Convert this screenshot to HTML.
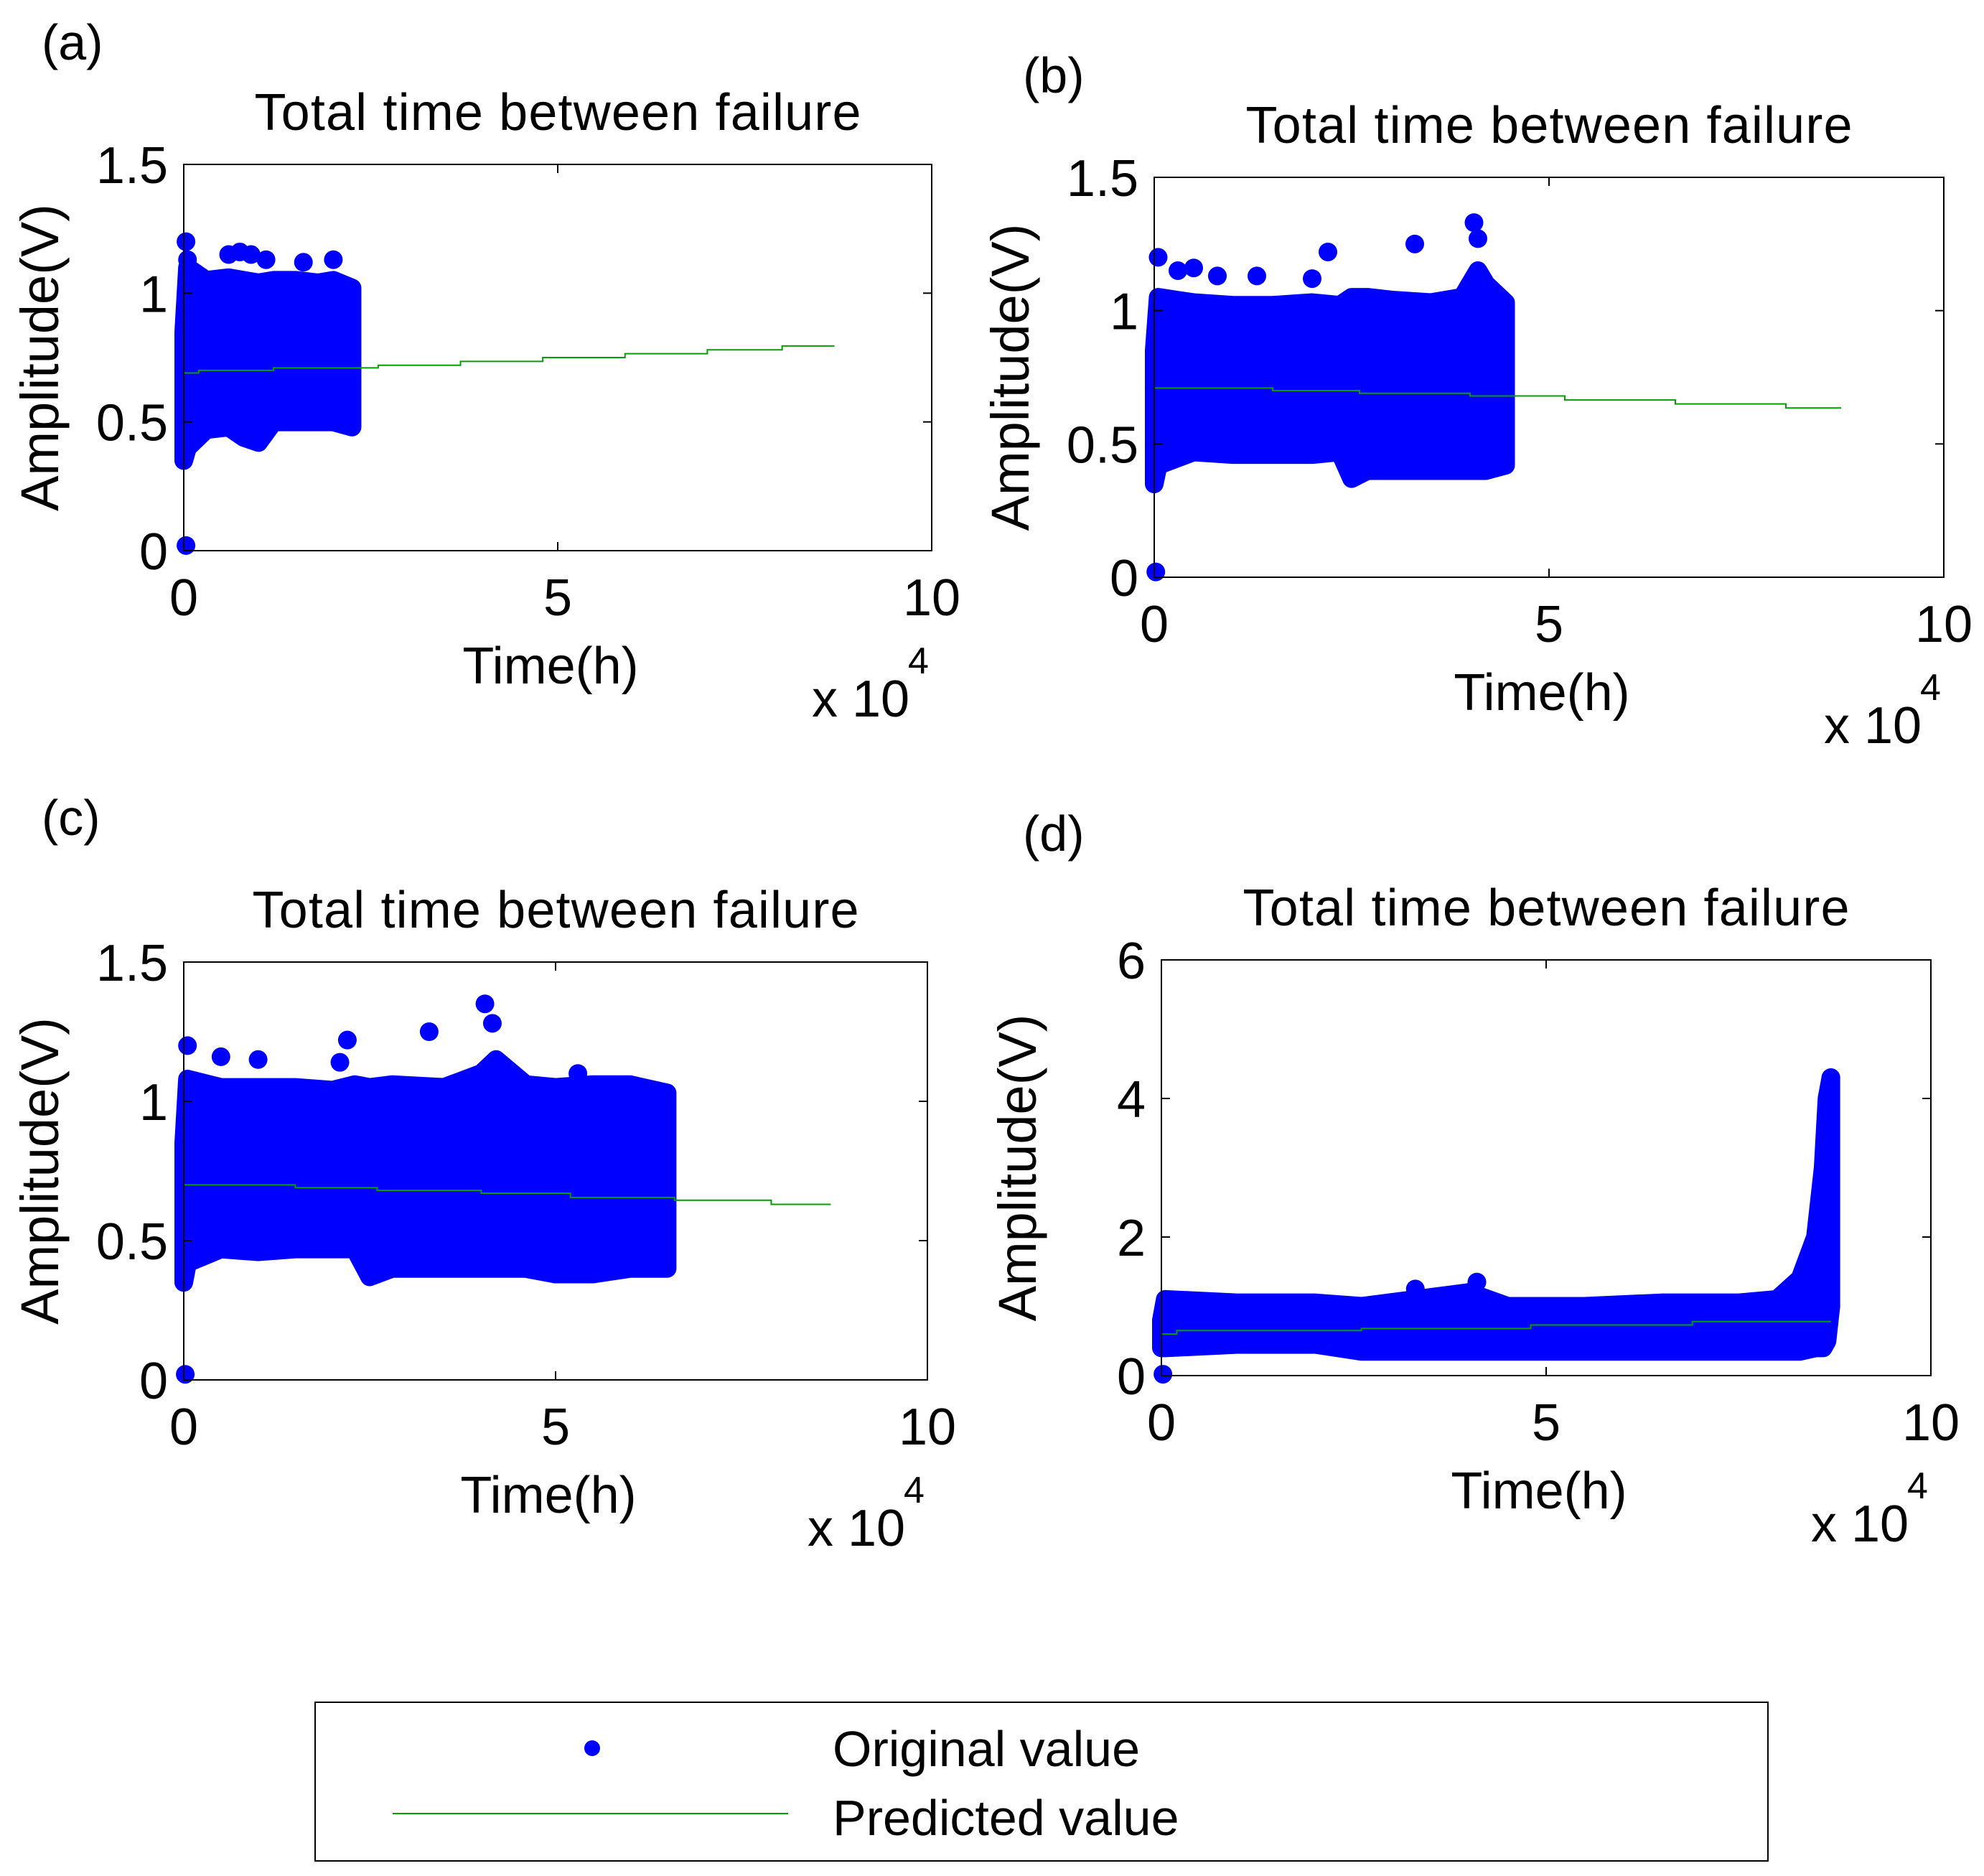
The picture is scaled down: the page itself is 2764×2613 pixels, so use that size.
<!DOCTYPE html>
<html><head><meta charset="utf-8"><style>
html,body{margin:0;padding:0;background:#fff;}
svg{display:block;font-family:"Liberation Sans",Arial,sans-serif;}
</style></head><body>
<svg id="fig" width="2764" height="2613" viewBox="0 0 2764 2613">
<g id="root"></g>
<g>
<rect x="439" y="2371" width="2024" height="221" fill="#fff" stroke="#000" stroke-width="2"/>
<circle cx="825" cy="2435" r="11" fill="#0000ff"/>
<text x="1160" y="2460" font-size="70">Original value</text>
<line x1="547" y1="2526" x2="1098" y2="2526" stroke="#00a000" stroke-width="2"/>
<text x="1160" y="2556" font-size="70">Predicted value</text>
</g>
</svg>
<script>
// ---- data (x in units of 1e4 h, y in V) ----
const aBandX = [0.0,0.05,0.3,0.6,0.8,1.0,1.2,1.5,1.8,2.0,2.25];
const aUpper = [0.85,1.1,1.05,1.06,1.05,1.04,1.05,1.05,1.04,1.05,1.02];
const aLower = [0.35,0.4,0.47,0.48,0.44,0.42,0.5,0.5,0.5,0.5,0.48];
const aOutX = [0.03,0.03,0.6,0.75,0.9,1.1,1.6,2.0,0.05];
const aOutY = [1.2,0.02,1.15,1.16,1.15,1.13,1.12,1.13,1.13];
const aStepX = [0,0.2,1.2,2.6,3.7,4.8,5.9,7.0,8.0,8.7];
const aStepY = [0.69,0.70,0.71,0.72,0.735,0.75,0.765,0.78,0.795,0.795];

const bBandX = [0.0,0.05,0.5,1.0,1.5,2.0,2.35,2.5,2.7,3.0,3.5,3.9,4.1,4.2,4.45];
const bUpper = [0.85,1.05,1.03,1.02,1.02,1.03,1.02,1.05,1.05,1.04,1.03,1.05,1.15,1.1,1.03];
const bLower = [0.35,0.42,0.47,0.46,0.46,0.46,0.47,0.37,0.4,0.4,0.4,0.4,0.4,0.4,0.42];
const bOutX = [0.05,0.3,0.5,0.8,1.3,2.0,2.2,3.3,4.05,4.1,0.02];
const bOutY = [1.2,1.15,1.16,1.13,1.13,1.12,1.22,1.25,1.33,1.27,0.02];
const bStepX = [0,0,1.5,2.6,4.0,5.2,6.6,8.0,8.7];
const bStepY = [0.0,0.71,0.70,0.69,0.68,0.665,0.65,0.635,0.635];

const cBandX = [0.0,0.05,0.5,1.0,1.5,2.0,2.3,2.5,2.8,3.5,4.0,4.2,4.6,5.0,5.5,6.0,6.5];
const cUpper = [0.85,1.08,1.05,1.05,1.05,1.04,1.06,1.05,1.06,1.05,1.1,1.15,1.06,1.05,1.06,1.06,1.03];
const cLower = [0.35,0.42,0.47,0.46,0.47,0.47,0.47,0.37,0.4,0.4,0.4,0.4,0.4,0.38,0.38,0.4,0.4];
const cOutX = [0.05,0.5,1.0,2.1,2.2,3.3,4.05,4.15,5.3,0.02];
const cOutY = [1.2,1.16,1.15,1.14,1.22,1.25,1.35,1.28,1.1,0.02];
const cStepX = [0,1.5,2.6,4.0,5.2,6.6,7.9,8.7];
const cStepY = [0.70,0.69,0.68,0.67,0.655,0.645,0.63,0.63];

const dBandX = [0.0,0.05,1.0,2.0,2.6,3.3,4.0,4.5,5.5,6.5,7.5,8.0,8.3,8.5,8.6,8.65,8.7];
const dUpper = [0.8,1.1,1.05,1.05,1.0,1.1,1.2,1.0,1.0,1.05,1.05,1.1,1.4,2.0,3.0,4.0,4.3];
const dLower = [0.4,0.4,0.45,0.45,0.35,0.35,0.35,0.35,0.35,0.35,0.35,0.35,0.35,0.4,0.4,0.5,1.0];
const dOutX = [0.02,3.3,4.1,8.7];
const dOutY = [0.02,1.25,1.35,4.3];
const dStepX = [0,0.2,2.6,4.8,6.9,8.7];
const dStepY = [0.6,0.65,0.68,0.73,0.78,0.78];

const xTicks = [0,5,10];
const xTickLabels = ["0","5","10"];
const yTicksSmall = [0,0.5,1,1.5];
const yTickLabelsSmall = ["0","0.5","1","1.5"];
const yTicksD = [0,2,4,6];
const yTickLabelsD = ["0","2","4","6"];

const NS = "http://www.w3.org/2000/svg";
const root = document.getElementById('root');
function mk(tag, attrs, parent){
  const e = document.createElementNS(NS, tag);
  for (const k in attrs) e.setAttribute(k, attrs[k]);
  (parent||root).appendChild(e);
  return e;
}
const panels = [
 {id:'a', L:256,R:1298,T:229,B:767, ymax:1.5, yt:yTicksSmall, yl:yTickLabelsSmall, bx:aBandX,bu:aUpper,bl:aLower,ox:aOutX,oy:aOutY,sx:aStepX,sy:aStepY, lab:[58,83]},
 {id:'b', L:1608,R:2708,T:247,B:804, ymax:1.5, yt:yTicksSmall, yl:yTickLabelsSmall, bx:bBandX,bu:bUpper,bl:bLower,ox:bOutX,oy:bOutY,sx:bStepX,sy:bStepY, lab:[1425,129]},
 {id:'c', L:256,R:1292,T:1340,B:1922, ymax:1.5, yt:yTicksSmall, yl:yTickLabelsSmall, bx:cBandX,bu:cUpper,bl:cLower,ox:cOutX,oy:cOutY,sx:cStepX,sy:cStepY, lab:[58,1163]},
 {id:'d', L:1618,R:2690,T:1337,B:1916, ymax:6, yt:yTicksD, yl:yTickLabelsD, bx:dBandX,bu:dUpper,bl:dLower,ox:dOutX,oy:dOutY,sx:dStepX,sy:dStepY, lab:[1425,1185]}
];
panels.forEach(p=>{
  const g = mk('g',{});
  
  
  const xs = v => p.L + (v/10)*(p.R-p.L);
  const ys = v => p.B - (v/p.ymax)*(p.B-p.T);
  const lab = mk('text',{x:p.lab[0],y:p.lab[1],'font-size':70},g);
  lab.textContent = '('+p.id+')';
  
  
  const t = mk('text',{x:(p.L+p.R)/2,y:p.T-48,'font-size':72,'text-anchor':'middle',textLength:845},g);
  t.textContent = 'Total time between failure';
  
  
  // band
  let d = '';
  p.bx.forEach((x,i)=>{ d += (i?'L':'M')+xs(x)+' '+ys(p.bu[i])+' '; });
  for (let i=p.bx.length-1;i>=0;i--) d += 'L'+xs(p.bx[i])+' '+ys(p.bl[i])+' ';
  d += 'Z';
  const band = mk('path',{d:d,fill:'#0000ff',stroke:'#0000ff','stroke-width':26,'stroke-linejoin':'round'},g);
  
  
  p.ox.forEach((x,i)=>{
    const c = mk('circle',{cx:xs(x),cy:ys(p.oy[i]),r:13,fill:'#0000ff'},g);
    
    
  });
  // step line
  let sd = '';
  p.sx.forEach((x,i)=>{
    if (i===0) sd += 'M'+xs(x)+' '+ys(p.sy[i]);
    else sd += ' L'+xs(x)+' '+ys(p.sy[i-1])+' L'+xs(x)+' '+ys(p.sy[i]);
  });
  const line = mk('path',{d:sd,fill:'none',stroke:'#00a000','stroke-width':2},g);
  
  
  // axes box
  const box = mk('rect',{x:p.L,y:p.T,width:p.R-p.L,height:p.B-p.T,fill:'none',stroke:'#000','stroke-width':2},g);
  
  
  xTicks.forEach((v,i)=>{
    mk('line',{x1:xs(v),x2:xs(v),y1:p.B,y2:p.B-12,stroke:'#000','stroke-width':2},g);
    mk('line',{x1:xs(v),x2:xs(v),y1:p.T,y2:p.T+12,stroke:'#000','stroke-width':2},g);
    const tl = mk('text',{x:xs(v),y:p.B+90,'font-size':72,'text-anchor':'middle'},g);
    tl.textContent = xTickLabels[i];
    
    
  });
  p.yt.forEach((v,i)=>{
    mk('line',{x1:p.L,x2:p.L+12,y1:ys(v),y2:ys(v),stroke:'#000','stroke-width':2},g);
    mk('line',{x1:p.R,x2:p.R-12,y1:ys(v),y2:ys(v),stroke:'#000','stroke-width':2},g);
    const tl = mk('text',{x:p.L-22,y:ys(v)+26,'font-size':72,'text-anchor':'end'},g);
    tl.textContent = p.yl[i];
    
    
  });
  const xl = mk('text',{x:(p.L+p.R)/2-10,y:p.B+185,'font-size':72,'text-anchor':'middle'},g);
  xl.textContent = 'Time(h)';
  
  
  const cy = (p.T+p.B)/2;
  const yl = mk('text',{x:0,y:0,'font-size':74,'text-anchor':'middle',transform:'translate('+(p.L-175)+','+cy+') rotate(-90)'},g);
  yl.textContent = 'Amplitude(V)';
  
  
  const ex = mk('text',{x:p.R-167,y:p.B+231,'font-size':72},g);
  ex.textContent = 'x 10';
  
  
  const sup = mk('text',{x:p.R-33,y:p.B+171,'font-size':52},g);
  sup.textContent = '4';
  
  
});
</script>
</body></html>
